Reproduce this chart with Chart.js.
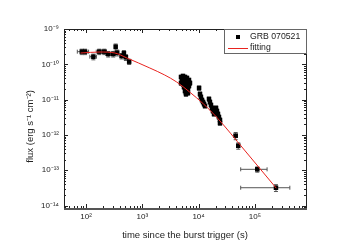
<!DOCTYPE html>
<html>
  <head>
    <title>GRB 070521</title>
    <script src="https://cdn.jsdelivr.net/npm/chart.js"></script>
    <style>
      body {
        margin: 0;
        background: #fff;
      }
      canvas {
        display: block;
      }
    </style>
  </head>

  <body>
    <canvas id="myChart" width="357" height="250"></canvas>

    <script>
      // observed light curve: time (s), flux (erg s^-1 cm^-2), symmetric errors
      const grbTime = [
        84, 96, 135, 172, 211, 248, 304, 336, 358, 429, 471, 511, 584,
        4870, 4870, 5070, 5280, 5280, 5500, 5500, 5730, 5730, 5730, 5970, 5970,
        5970, 6220, 6220, 6220, 6480, 6480, 6480, 6750, 6750, 7030,
        10200, 10600, 11000, 11500, 12000, 12500, 13000,
        15300, 15900, 16600, 17300, 18000, 18800,
        20400, 21200, 22100, 23000, 24000, 24000,
        45600, 50700, 110400, 237000,
      ];
      const grbFlux = [
        2.28e-10, 2.28e-10, 1.64e-10, 2.28e-10, 2.28e-10, 1.96e-10, 1.96e-10,
        3.15e-10, 2.13e-10, 1.72e-10, 2.05e-10, 1.58e-10, 1.19e-10,
        4.37e-11, 2.95e-11, 3.59e-11, 4.67e-11, 2.77e-11, 3.59e-11, 2.28e-11,
        4.37e-11, 2.77e-11, 1.75e-11, 3.36e-11, 2.13e-11, 1.44e-11, 4.09e-11,
        2.59e-11, 1.64e-11, 3.15e-11, 2.0e-11, 1.54e-11, 3.59e-11, 2.43e-11,
        2.95e-11,
        2.13e-11, 1.44e-11, 1.19e-11, 9.75e-12, 8.55e-12, 7.5e-12, 6.59e-12,
        1.04e-11, 8.55e-12, 7.03e-12, 5.78e-12, 4.75e-12, 3.91e-12,
        5.78e-12, 4.75e-12, 3.91e-12, 3.21e-12, 2.64e-12, 2.17e-12,
        9.5e-13, 4.94e-13, 1.06e-13, 3.19e-14,
      ];
      const timeErr = [
        14, 15, 18, 20, 20, 25, 25, 15, 20, 25, 20, 25, 30,
        100, 100, 100, 100, 100, 100, 100, 100, 100, 100, 100, 100,
        100, 100, 100, 100, 100, 100, 100, 100, 100, 100,
        200, 200, 200, 200, 200, 200, 200,
        300, 300, 300, 300, 300, 300,
        400, 400, 400, 400, 400, 400,
        3200, 2500, 54400, 181000,
      ];
      const fluxErr = [
        4e-11, 4e-11, 3e-11, 4e-11, 4e-11, 3.5e-11, 3.5e-11, 6e-11, 4e-11,
        3e-11, 4e-11, 3e-11, 2e-11,
        5e-12, 4e-12, 5e-12, 5e-12, 4e-12, 5e-12, 3e-12, 5e-12, 4e-12, 3e-12,
        4e-12, 3e-12, 2e-12, 5e-12, 4e-12, 2e-12, 4e-12, 3e-12, 2e-12, 4e-12,
        3e-12, 4e-12,
        3e-12, 2e-12, 1.5e-12, 1.2e-12, 1e-12, 1e-12, 8e-13,
        1.4e-12, 1.1e-12, 9e-13, 8e-13, 6e-13, 5e-13,
        8e-13, 6e-13, 5e-13, 4e-13, 3.5e-13, 3e-13,
        2.2e-13, 1e-13, 1.8e-14, 7e-15,
      ];

      // fitted model
      const fitTime = [
        80, 177, 326, 532, 1360, 2500, 4080, 6930, 12250, 20800, 65200, 240000,
      ];
      const fitFlux = [
        2.09e-10, 2.23e-10, 2.09e-10, 1.51e-10, 7.85e-11, 4.97e-11, 3.15e-11,
        1.64e-11, 7.5e-12, 3.21e-12, 3.73e-13, 3.1e-14,
      ];

      const xTicks = [1e2, 1e3, 1e4, 1e5];
      const yTicks = [1e-14, 1e-13, 1e-12, 1e-11, 1e-10, 1e-9];

      const supMap = {
        "-": "⁻", 0: "⁰", 1: "¹", 2: "²", 3: "³", 4: "⁴",
        5: "⁵", 6: "⁶", 7: "⁷", 8: "⁸", 9: "⁹",
      };
      function powLabel(v) {
        const e = String(Math.round(Math.log10(v)));
        return "10" + e.split("").map((c) => supMap[c]).join("");
      }

      const errorBars = {
        id: "errorBars",
        beforeDatasetsDraw(chart) {
          const { ctx } = chart;
          const { x, y } = chart.scales;
          ctx.save();
          ctx.strokeStyle = "#555";
          ctx.lineWidth = 1;
          ctx.beginPath();
          grbTime.forEach((t, i) => {
            const f = grbFlux[i];
            const px = x.getPixelForValue(t);
            const py = y.getPixelForValue(f);
            const x0 = x.getPixelForValue(Math.max(t - timeErr[i], 1));
            const x1 = x.getPixelForValue(t + timeErr[i]);
            const y0 = y.getPixelForValue(Math.max(f - fluxErr[i], 1e-16));
            const y1 = y.getPixelForValue(f + fluxErr[i]);
            ctx.moveTo(x0, py);
            ctx.lineTo(x1, py);
            ctx.moveTo(x0, py - 2);
            ctx.lineTo(x0, py + 2);
            ctx.moveTo(x1, py - 2);
            ctx.lineTo(x1, py + 2);
            ctx.moveTo(px, y0);
            ctx.lineTo(px, y1);
            ctx.moveTo(px - 2, y0);
            ctx.lineTo(px + 2, y0);
            ctx.moveTo(px - 2, y1);
            ctx.lineTo(px + 2, y1);
          });
          ctx.stroke();
          ctx.restore();
        },
      };

      // box frame with inward ticks on all four sides, plus the legend
      const frame = {
        id: "frame",
        afterDraw(chart) {
          const { ctx, chartArea: a } = chart;
          const { x, y } = chart.scales;
          ctx.save();
          ctx.strokeStyle = "#222";
          ctx.lineWidth = 1;
          ctx.strokeRect(a.left + 0.5, a.top + 0.5, a.right - a.left, a.bottom - a.top);
          ctx.beginPath();
          for (let e = 1; e <= 5; e++) {
            for (let m = 1; m <= 9; m++) {
              const v = m * Math.pow(10, e);
              if (v < x.min || v > x.max) continue;
              const px = Math.round(x.getPixelForValue(v)) + 0.5;
              const len = m === 1 ? 4 : 2;
              ctx.moveTo(px, a.bottom);
              ctx.lineTo(px, a.bottom - len);
              ctx.moveTo(px, a.top);
              ctx.lineTo(px, a.top + len);
            }
          }
          for (let e = -15; e <= -9; e++) {
            for (let m = 1; m <= 9; m++) {
              const v = m * Math.pow(10, e);
              if (v < y.min || v > y.max * 1.0001) continue;
              const py = Math.round(y.getPixelForValue(v)) + 0.5;
              const len = m === 1 ? 4 : 2;
              ctx.moveTo(a.left, py);
              ctx.lineTo(a.left + len, py);
              ctx.moveTo(a.right, py);
              ctx.lineTo(a.right - len, py);
            }
          }
          ctx.stroke();
          ctx.strokeStyle = "#555";
          ctx.lineWidth = 2;
          ctx.beginPath();
          ctx.moveTo(a.left, a.bottom + 1);
          ctx.lineTo(a.right + 1, a.bottom + 1);
          ctx.stroke();

          // legend
          const lx = a.right - 82;
          const ly = a.top;
          ctx.fillStyle = "#fff";
          ctx.fillRect(lx, ly, 82, 24);
          ctx.strokeStyle = "#666";
          ctx.lineWidth = 1;
          ctx.strokeRect(lx + 0.5, ly + 0.5, 82, 24);
          ctx.fillStyle = "#000";
          ctx.fillRect(lx + 12, ly + 6, 4, 4);
          ctx.strokeStyle = "#e8231f";
          ctx.beginPath();
          ctx.moveTo(lx + 4, ly + 19.5);
          ctx.lineTo(lx + 24, ly + 19.5);
          ctx.stroke();
          ctx.fillStyle = "#222";
          ctx.font = "8.7px 'Liberation Sans', Arial, sans-serif";
          ctx.textBaseline = "middle";
          ctx.fillText(chart.data.datasets[1].label, lx + 26, ly + 8);
          ctx.fillText(chart.data.datasets[0].label, lx + 26, ly + 19);
          ctx.restore();
        },
      };

      const data = {
        datasets: [
          {
            label: "fitting",
            type: "line",
            data: fitTime.map((t, i) => ({ x: t, y: fitFlux[i] })),
            borderColor: "#e8231f",
            borderWidth: 1,
            pointRadius: 0,
            showLine: true,
            cubicInterpolationMode: "monotone",
          },
          {
            label: "GRB 070521",
            data: grbTime.map((t, i) => ({ x: t, y: grbFlux[i] })),
            backgroundColor: "#000",
            borderColor: "#000",
            borderWidth: 0,
            pointStyle: "rect",
            pointRadius: 3.2,
          },
        ],
      };

      const tickFont = { family: "'Liberation Sans', Arial, sans-serif", size: 8 };
      const titleFont = { family: "'Liberation Sans', Arial, sans-serif", size: 9.5 };

      const config = {
        type: "scatter",
        data: data,
        options: {
          responsive: false,
          animation: false,
          layout: { padding: { left: 0, right: 51, top: 29, bottom: 0 } },
          plugins: {
            legend: { display: false },
            tooltip: { enabled: false },
          },
          scales: {
            x: {
              type: "logarithmic",
              min: 40.6,
              max: 8.1e5,
              grid: { display: false, drawTicks: false },
              border: { display: false },
              afterBuildTicks: (s) => {
                s.ticks = xTicks.map((v) => ({ value: v }));
              },
              afterFit: (s) => {
                s.height = 42;
              },
              ticks: {
                font: tickFont,
                color: "#222",
                padding: 4,
                maxRotation: 0,
                autoSkip: false,
                callback: (v) => powLabel(v),
              },
              title: {
                display: true,
                text: "time since the burst trigger (s)",
                font: titleFont,
                color: "#222",
                padding: { top: 0, bottom: 9 },
              },
            },
            y: {
              type: "logarithmic",
              min: 8.5e-15,
              max: 1e-9,
              grid: { display: false, drawTicks: false },
              border: { display: false },
              afterBuildTicks: (s) => {
                s.ticks = yTicks.map((v) => ({ value: v }));
              },
              afterFit: (s) => {
                s.width = 64;
              },
              ticks: {
                font: tickFont,
                color: "#222",
                padding: 5,
                autoSkip: false,
                callback: (v) => powLabel(v),
              },
              title: {
                display: true,
                text: "flux (erg s⁻¹ cm⁻²)      ",
                font: titleFont,
                color: "#222",
                padding: { top: 25, bottom: 0 },
              },
            },
          },
        },
        plugins: [errorBars, frame],
      };
    </script>

    <script>
      const myChart = new Chart(document.getElementById("myChart"), config);
    </script>
  </body>
</html>
